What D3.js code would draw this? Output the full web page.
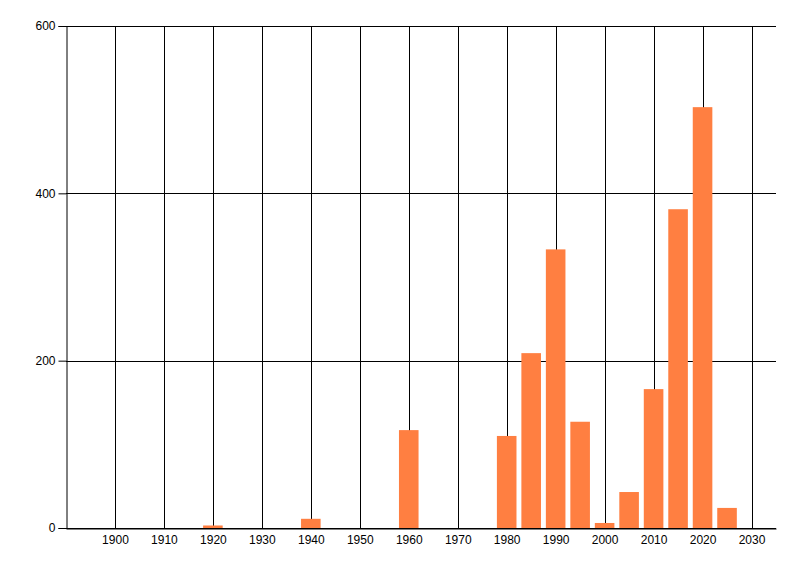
<!DOCTYPE html>
<html>
<head>
<meta charset="utf-8">
<script src="https://cdn.jsdelivr.net/npm/d3@7"></script>
<style>
  body { margin: 0; background: #fff; }
  text { font-family: "Liberation Sans Narrow", "Liberation Sans", Arial, sans-serif; font-size: 12px; fill: #000; }
</style>
</head>
<body>
<div id="chart"></div>
<script>
var years = [1920, 1940, 1960, 1980, 1985, 1990, 1995, 2000, 2005, 2010, 2015, 2020, 2025];
var counts = [3, 11, 117, 110, 209, 333, 127, 6, 43, 166, 381, 503, 24];
var xTicks = [1900, 1910, 1920, 1930, 1940, 1950, 1960, 1970, 1980, 1990, 2000, 2010, 2020, 2030];
var yTicks = [0, 200, 400, 600];

var margin = {top: 26, right: 24, bottom: 48, left: 66},
  width = 800 - margin.left - margin.right,
  height = 576 - margin.top - margin.bottom;

var svg = d3.select("#chart").append("svg")
  .attr("width", 800)
  .attr("height", 576);

var g = svg.append("g")
  .attr("transform", "translate(" + margin.left + "," + margin.top + ")");

var x = d3.scaleLinear().domain([1890, 2035]).range([0, width]);
var y = d3.scaleLinear().domain([0, 600]).range([height, 0]);

// grid lines
g.selectAll(".vgrid").data(xTicks).enter().append("line")
  .attr("x1", function(d) { return Math.round(x(d)) + 0.5; })
  .attr("x2", function(d) { return Math.round(x(d)) + 0.5; })
  .attr("y1", 0).attr("y2", height)
  .attr("stroke", "#000");

g.selectAll(".hgrid").data(yTicks).enter().append("line")
  .attr("x1", 0).attr("x2", width)
  .attr("y1", function(d) { return Math.round(y(d)) + 0.5; })
  .attr("y2", function(d) { return Math.round(y(d)) + 0.5; })
  .attr("stroke", "#000");

// bars
var barW = x(1894) - x(1890);
g.selectAll(".bar").data(years).enter().append("rect")
  .attr("x", function(d) { return x(d) - barW / 2; })
  .attr("width", barW)
  .attr("y", function(d, i) { return y(counts[i]); })
  .attr("height", function(d, i) { return height - y(counts[i]); })
  .attr("fill", "#ff7f41");

// axes
var xAxis = g.append("g")
  .attr("transform", "translate(0," + (Math.round(height) + 0.5) + ")")
  .call(d3.axisBottom(x).tickValues(xTicks).tickFormat(d3.format("d")).tickSize(0).tickPadding(7));
xAxis.select(".domain").attr("stroke", "#000");
xAxis.selectAll("text").style("font-size", "12px");

var yAxis = g.append("g")
  .attr("transform", "translate(0.5,0)")
  .call(d3.axisLeft(y).tickValues(yTicks).tickFormat(d3.format("d")).tickSize(8).tickPadding(3));
yAxis.select(".domain").attr("stroke", "#000");
yAxis.selectAll(".tick line").attr("stroke", "#000");
yAxis.selectAll("text").style("font-size", "12px");
</script>
</body>
</html>
